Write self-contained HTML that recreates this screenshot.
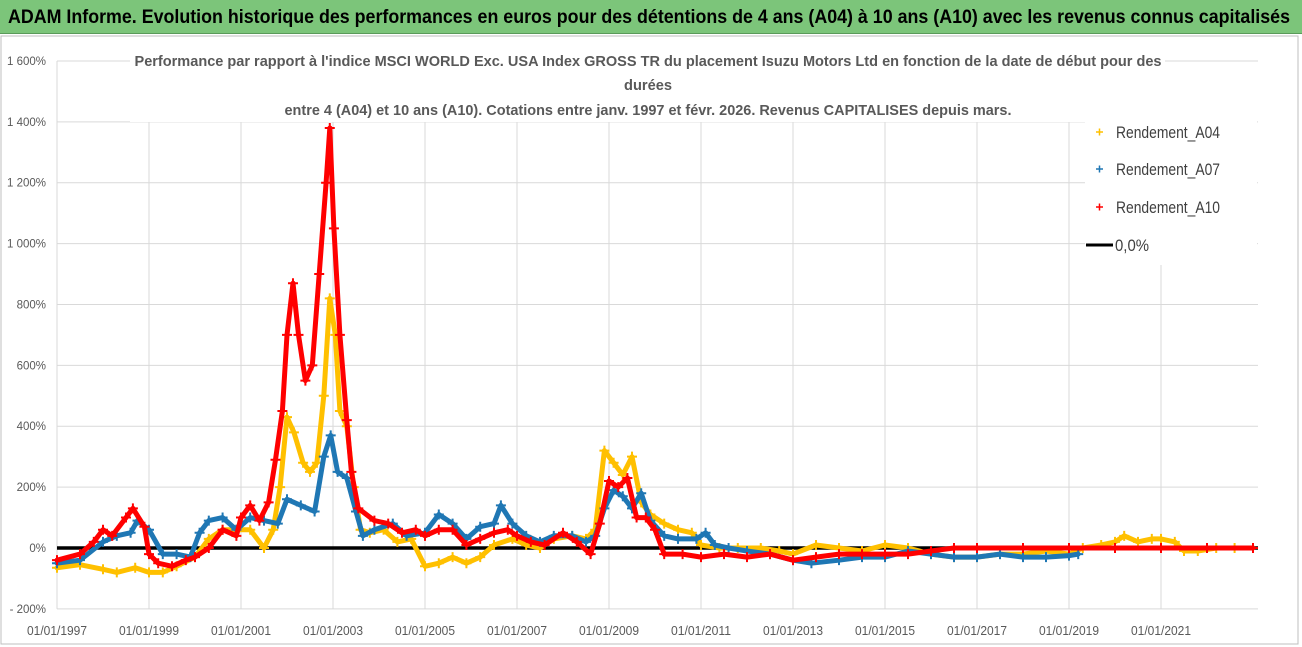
<!DOCTYPE html>
<html><head><meta charset="utf-8">
<style>
body{margin:0;width:1302px;height:647px;overflow:hidden;background:#fff;font-family:"Liberation Sans",sans-serif;}
#hdr{position:absolute;left:0;top:0;width:1302px;height:33px;background:#7cc57a;border-bottom:1px solid #5a9a5a;}
svg{position:absolute;left:0;top:0;}
</style></head><body>
<div id="hdr"></div>
<svg id="chart" width="1302" height="647">
<text x="8" y="23" font-size="19" font-weight="bold" fill="#000" textLength="1282" lengthAdjust="spacingAndGlyphs">ADAM Informe. Evolution historique des performances en euros pour des détentions de 4 ans (A04) à 10 ans (A10) avec les revenus connus capitalisés</text>
</svg>
<script>
const xTickYears=[1997,1999,2001,2003,2005,2007,2009,2011,2013,2015,2017,2019,2021];
const xTickLabels=["01/01/1997","01/01/1999","01/01/2001","01/01/2003","01/01/2005","01/01/2007","01/01/2009","01/01/2011","01/01/2013","01/01/2015","01/01/2017","01/01/2019","01/01/2021"];
const yTicks=[-200,0,200,400,600,800,1000,1200,1400,1600];
const yTickLabels=["- 200%","0%","200%","400%","600%","800%","1 000%","1 200%","1 400%","1 600%"];
const a04Dates=[1997,1997.5,1998,1998.3,1998.7,1999,1999.3,1999.6,2000,2000.3,2000.6,2000.9,2001.2,2001.5,2001.7,2001.85,2002,2002.15,2002.35,2002.5,2002.65,2002.8,2002.93,2003.05,2003.15,2003.3,2003.45,2003.6,2003.8,2004.1,2004.4,2004.7,2005,2005.3,2005.6,2005.9,2006.2,2006.5,2006.9,2007.2,2007.5,2007.8,2008.2,2008.5,2008.7,2008.9,2009.1,2009.3,2009.5,2009.7,2009.9,2010.2,2010.5,2010.8,2011,2011.4,2011.8,2012.3,2012.7,2013,2013.5,2014,2014.5,2015,2015.5,2016,2016.5,2017,2017.5,2018,2018.5,2019,2019.3,2019.7,2020,2020.2,2020.5,2020.8,2021,2021.3,2021.5,2021.8,2022.2,2022.6,2023];
const a04Values=[-65,-55,-70,-80,-65,-80,-80,-60,-30,30,60,60,60,0,60,200,430,380,280,250,280,500,820,700,450,400,200,60,50,60,20,30,-60,-50,-30,-50,-30,10,30,10,0,30,40,30,60,320,280,240,300,150,110,80,60,50,10,0,0,0,-10,-20,10,0,-10,10,0,-20,-30,-30,-20,-20,-10,-20,0,10,20,40,20,30,30,20,-10,-10,0,0,0];
const a07Dates=[1997,1997.5,1998,1998.3,1998.6,1998.75,1999,1999.3,1999.6,1999.9,2000.1,2000.3,2000.6,2000.9,2001.2,2001.5,2001.8,2002,2002.3,2002.6,2002.8,2002.95,2003.1,2003.3,2003.5,2003.65,2003.9,2004.3,2004.6,2005,2005.3,2005.6,2005.9,2006.2,2006.5,2006.65,2006.9,2007.2,2007.5,2007.8,2008.2,2008.5,2008.7,2008.9,2009.1,2009.3,2009.5,2009.7,2009.9,2010.2,2010.5,2010.9,2011.1,2011.3,2011.6,2012,2012.5,2013,2013.4,2014,2014.5,2015,2015.5,2016,2016.5,2017,2017.5,2018,2018.5,2019,2019.2];
const a07Values=[-50,-40,20,40,50,90,60,-20,-20,-30,50,90,100,60,100,90,80,160,140,120,300,370,250,230,120,40,60,80,40,50,110,80,30,70,80,140,80,40,20,40,40,20,40,130,190,170,130,180,90,40,30,30,50,10,0,-10,-20,-40,-50,-40,-30,-30,-10,-20,-30,-30,-20,-30,-30,-25,-20];
const a10Dates=[1997,1997.5,1997.8,1998,1998.2,1998.5,1998.65,1998.9,1999,1999.2,1999.5,1999.8,2000,2000.3,2000.6,2000.9,2001,2001.2,2001.4,2001.6,2001.75,2001.9,2002,2002.13,2002.25,2002.4,2002.55,2002.7,2002.85,2002.93,2003.02,2003.15,2003.3,2003.4,2003.55,2003.9,2004.2,2004.5,2004.8,2005,2005.3,2005.6,2005.9,2006.2,2006.5,2006.8,2007,2007.3,2007.6,2008,2008.3,2008.6,2008.8,2009,2009.2,2009.4,2009.6,2009.8,2010,2010.2,2010.6,2011,2011.5,2012,2012.5,2013,2013.5,2014,2014.5,2015,2015.5,2016,2016.5,2017,2018,2019,2020,2021,2022,2023];
const a10Values=[-40,-20,20,60,40,100,130,70,-20,-50,-60,-40,-30,0,60,40,100,140,90,150,290,450,700,870,700,550,600,900,1200,1380,1050,700,420,250,130,90,80,50,60,40,60,60,10,30,50,60,40,20,10,50,20,-20,80,220,200,230,100,100,60,-20,-20,-30,-20,-30,-20,-40,-30,-20,-20,-20,-20,-10,0,0,0,0,0,0,0,0];

const NS="http://www.w3.org/2000/svg";
const svg=document.getElementById('chart');
const X0=57,X1=1258,Y0=548,PX=46,PY=0.30438;
const xs=t=>X0+(t-1997)*PX;
const ys=v=>Y0-v*PY;
function mk(tag,attrs,parent){const e=document.createElementNS(NS,tag);for(const k in attrs)e.setAttribute(k,attrs[k]);(parent||svg).appendChild(e);return e;}
const fr=mk('rect',{x:1,y:36,width:1297,height:608,fill:'#fff',stroke:'#bfbfbf','stroke-width':1});


yTicks.forEach((v,i)=>{
  const l=mk('line',{x1:X0,x2:X1,y1:ys(v),y2:ys(v),stroke:'#d9d9d9','stroke-width':1});
  
  
  const t=mk('text',{x:X0-11,y:ys(v)+4,'text-anchor':'end','font-size':11.5,fill:'#595959'});
  t.textContent=yTickLabels[i];
  
  
});
xTickYears.forEach((yr,i)=>{
  const l=mk('line',{x1:xs(yr),x2:xs(yr),y1:ys(1600),y2:ys(-200),stroke:'#d9d9d9','stroke-width':1});
  
  
  const t=mk('text',{x:xs(yr),y:635,'text-anchor':'middle','font-size':12.5,fill:'#595959',textLength:60,lengthAdjust:'spacingAndGlyphs'});
  t.textContent=xTickLabels[i];
  
  
});
const tb=mk('rect',{x:130,y:46,width:1035,height:76,fill:'#fff'});


const titles=[["Performance par rapport à l'indice MSCI WORLD Exc. USA Index GROSS TR  du placement Isuzu Motors Ltd en fonction de la date de début pour des",66,1027],["durées",90,48],["entre 4 (A04) et 10 ans (A10). Cotations entre janv. 1997 et févr. 2026. Revenus CAPITALISES depuis mars.",115,727]];
titles.forEach(([s,y,w])=>{
  const t=mk('text',{x:648,y:y,'text-anchor':'middle','font-size':15,'font-weight':'bold',fill:'#595959',textLength:w,lengthAdjust:'spacingAndGlyphs'});
  t.textContent=s;
  
  
});
const z=mk('line',{x1:X0,x2:X1,y1:ys(0),y2:ys(0),stroke:'#000','stroke-width':3.5});


function series(dates,vals,color,name){
  const g=mk('g',{});
  
  
  const pts=dates.map((d,i)=>xs(d).toFixed(1)+','+ys(vals[i]).toFixed(1)).join(' ');
  mk('polyline',{points:pts,fill:'none',stroke:color,'stroke-width':5,'stroke-linejoin':'round','stroke-linecap':'round'},g);
  dates.forEach((d,i)=>{
    const x=xs(d),y=ys(vals[i]);
    const p=mk('path',{d:`M${x-5},${y}h10M${x},${y-5}v10`,stroke:color,'stroke-width':2},g);
    
    
  });
}
series(a04Dates,a04Values,'#ffc000','series-a04');
series(a07Dates,a07Values,'#1f77b4','series-a07');
series(a10Dates,a10Values,'#ff0000','series-a10');
const lb=mk('rect',{x:1085,y:110,width:172,height:155,fill:'#fff'});


const leg=[["Rendement_A04",'#ffc000',132],["Rendement_A07",'#1f77b4',169],["Rendement_A10",'#ff0000',207]];
leg.forEach(([s,c,y])=>{
  const m=mk('path',{d:`M1096,${y}h7M1099.5,${y-3.5}v7`,stroke:c,'stroke-width':1.5});
  
  
  const t=mk('text',{x:1116,y:y+6,'font-size':16.5,fill:'#404040',textLength:104,lengthAdjust:'spacingAndGlyphs'});
  t.textContent=s;
  
  
});
const zl=mk('line',{x1:1086,x2:1113,y1:245,y2:245,stroke:'#000','stroke-width':3});


const zt=mk('text',{x:1115,y:251,'font-size':16.5,fill:'#404040',textLength:34,lengthAdjust:'spacingAndGlyphs'});
zt.textContent="0,0%";


</script>
</body></html>
